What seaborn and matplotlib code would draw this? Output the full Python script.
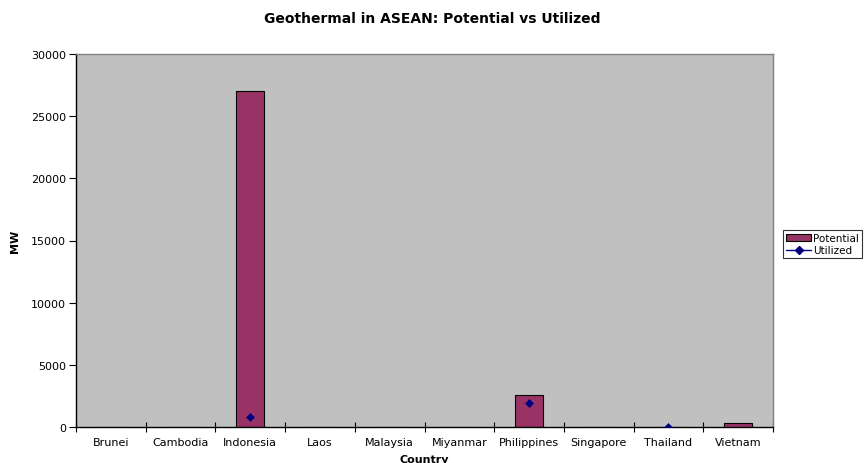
import matplotlib
matplotlib.use("Agg")
import matplotlib.pyplot as plt
from matplotlib.lines import Line2D
from matplotlib.patches import Patch
import numpy as np
import pandas as pd
import seaborn as sns

countries = ["Brunei", "Cambodia", "Indonesia", "Laos", "Malaysia",
             "Miyanmar", "Philippines", "Singapore", "Thailand", "Vietnam"]
potential = [0, 0, 27000, 0, 0, 0, 2600, 0, 0, 340]
utilized = [np.nan, np.nan, 800, np.nan, np.nan, np.nan, 1930, np.nan, 0.3, np.nan]
y_ticks = [0, 5000, 10000, 15000, 20000, 25000, 30000]

bar_color = "#993366"
point_color = "#000080"
plot_bg = "#C0C0C0"

df = pd.DataFrame({"Country": countries, "Potential": potential, "Utilized": utilized})

sns.set_style("white")
plt.rcParams["font.family"] = ["DejaVu Sans"]
plt.rcParams["text.color"] = "black"
plt.rcParams["axes.labelcolor"] = "black"
plt.rcParams["xtick.color"] = "black"
plt.rcParams["ytick.color"] = "black"

fig = plt.figure(figsize=(8.65, 4.64), dpi=100)
ax = fig.add_axes([76 / 865, 1 - 428 / 464, 697 / 865, 373 / 464])
ax.set_facecolor(plot_bg)

sns.barplot(data=df, x="Country", y="Potential", color=bar_color, width=0.4,
            edgecolor="black", linewidth=0.8, saturation=1, ax=ax)
sns.scatterplot(data=df.dropna(), x="Country", y="Utilized", marker="D", s=16,
                color=point_color, edgecolor=point_color, linewidth=0.5,
                zorder=5, ax=ax)

ax.set_xlim(-0.5, len(countries) - 0.5)
ax.set_ylim(0, 30000)
ax.set_yticks(y_ticks)
ax.set_yticklabels([str(v) for v in y_ticks], fontsize=8)
ax.tick_params(axis="y", direction="out", length=5, width=0.8, color="black",
               pad=2, left=True)

# category labels centred, boundary ticks between categories
ax.set_xticks(range(len(countries)))
ax.set_xticklabels(countries, fontsize=8)
ax.tick_params(axis="x", which="major", length=0, pad=7)
ax.set_xticks(np.arange(-0.5, len(countries), 1.0), minor=True)
ax.tick_params(axis="x", which="minor", direction="inout", length=7, width=0.8,
               color="black", bottom=True)

for side in ["left", "bottom"]:
    ax.spines[side].set_color("black")
    ax.spines[side].set_linewidth(1.0)
for side in ["top", "right"]:
    ax.spines[side].set_color("#808080")
    ax.spines[side].set_linewidth(1.0)

ax.set_xlabel("Country", fontsize=8, fontweight="bold", labelpad=5)
ax.set_ylabel("MW", fontsize=8, fontweight="bold", labelpad=8)

fig.suptitle("Geothermal in ASEAN: Potential vs Utilized", x=0.5, y=1 - 19 / 464,
             fontsize=10, fontweight="bold", va="center")

handles = [
    Patch(facecolor=bar_color, edgecolor="black", linewidth=0.8, label="Potential"),
    Line2D([0], [0], color=point_color, marker="D", markersize=4, lw=1,
           label="Utilized"),
]
leg = fig.legend(handles=handles, loc="upper left",
                 bbox_to_anchor=(783 / 865, 1 - 231 / 464), fontsize=7.5,
                 frameon=True, fancybox=False, edgecolor="black",
                 borderpad=0.3, labelspacing=0.2, handlelength=2.4,
                 handletextpad=0.2, borderaxespad=0)
leg.get_frame().set_linewidth(0.8)

fig.savefig("out.png", dpi=100, facecolor="white")
